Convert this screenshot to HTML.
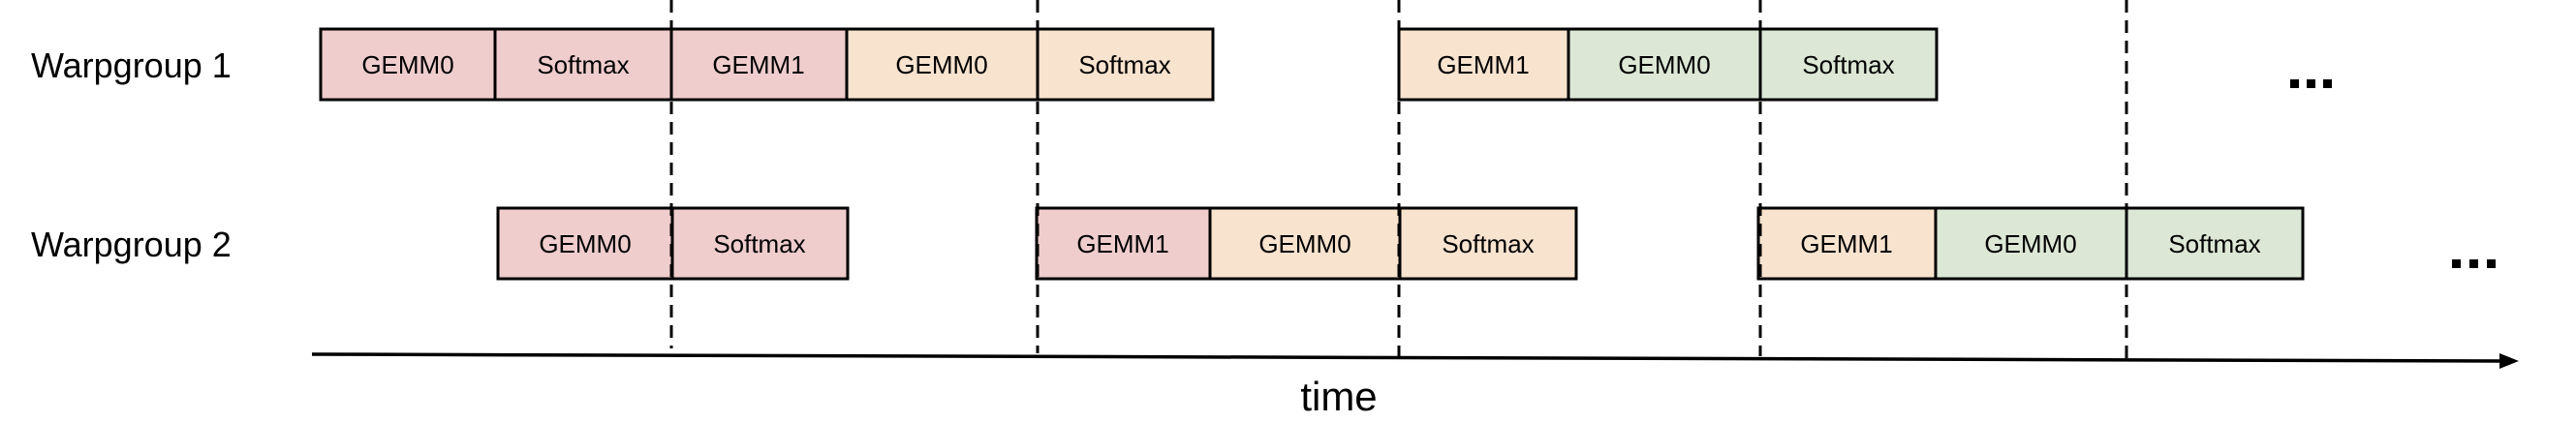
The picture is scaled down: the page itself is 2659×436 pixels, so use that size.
<!DOCTYPE html>
<html><head><meta charset="utf-8"><style>
html,body{margin:0;padding:0;background:#fff;}
svg{display:block;}
text{font-family:"Liberation Sans",Arial,sans-serif;fill:#000;}
</style></head><body>
<svg width="2659" height="436" viewBox="0 0 2659 436" xmlns="http://www.w3.org/2000/svg">
<g stroke="#000" stroke-width="3">
<!-- row1 -->
<rect x="331" y="30" width="180" height="73" fill="#efcdcd"/>
<rect x="511" y="30" width="182" height="73" fill="#efcdcd"/>
<rect x="693" y="30" width="181" height="73" fill="#efcdcd"/>
<rect x="874" y="30" width="197" height="73" fill="#f8e3cf"/>
<rect x="1071" y="30" width="181" height="73" fill="#f8e3cf"/>
<rect x="1444" y="30" width="175" height="73" fill="#f8e3cf"/>
<rect x="1619" y="30" width="198" height="73" fill="#dce8d5"/>
<rect x="1817" y="30" width="182" height="73" fill="#dce8d5"/>
<!-- row2 -->
<rect x="514" y="215" width="180" height="73" fill="#efcdcd"/>
<rect x="694" y="215" width="181" height="73" fill="#efcdcd"/>
<rect x="1070" y="215" width="179" height="73" fill="#efcdcd"/>
<rect x="1249" y="215" width="196" height="73" fill="#f8e3cf"/>
<rect x="1445" y="215" width="182" height="73" fill="#f8e3cf"/>
<rect x="1815" y="215" width="183" height="73" fill="#f8e3cf"/>
<rect x="1998" y="215" width="197" height="73" fill="#dce8d5"/>
<rect x="2195" y="215" width="182" height="73" fill="#dce8d5"/>
</g>
<g stroke="#000" stroke-width="3" stroke-dasharray="13 8">
<line x1="693" y1="0" x2="693" y2="360"/>
<line x1="1071" y1="0" x2="1071" y2="365"/>
<line x1="1444" y1="0" x2="1444" y2="368"/>
<line x1="1817" y1="0" x2="1817" y2="368"/>
<line x1="2195" y1="0" x2="2195" y2="372"/>
</g>
<line x1="322" y1="366" x2="2582" y2="373" stroke="#000" stroke-width="3.5"/>
<polygon points="2580,365 2600,373 2580,381" fill="#000"/>
<g font-size="26" text-anchor="middle">
<text x="421" y="76">GEMM0</text>
<text x="602" y="76">Softmax</text>
<text x="783" y="76">GEMM1</text>
<text x="972" y="76">GEMM0</text>
<text x="1161" y="76">Softmax</text>
<text x="1531" y="76">GEMM1</text>
<text x="1718" y="76">GEMM0</text>
<text x="1908" y="76">Softmax</text>
<text x="604" y="261">GEMM0</text>
<text x="784" y="261">Softmax</text>
<text x="1159" y="261">GEMM1</text>
<text x="1347" y="261">GEMM0</text>
<text x="1536" y="261">Softmax</text>
<text x="1906" y="261">GEMM1</text>
<text x="2096" y="261">GEMM0</text>
<text x="2286" y="261">Softmax</text>
</g>
<text x="32" y="80" font-size="36">Warpgroup 1</text>
<text x="32" y="265" font-size="36">Warpgroup 2</text>
<text x="1382" y="424" font-size="42" text-anchor="middle">time</text>
<g fill="#000">
<rect x="2364" y="82" width="9" height="9"/><rect x="2381" y="82" width="9" height="9"/><rect x="2398" y="82" width="9" height="9"/>
<rect x="2531" y="268" width="9" height="9"/><rect x="2549" y="268" width="9" height="9"/><rect x="2567" y="268" width="9" height="9"/>
</g>
</svg>
</body></html>
